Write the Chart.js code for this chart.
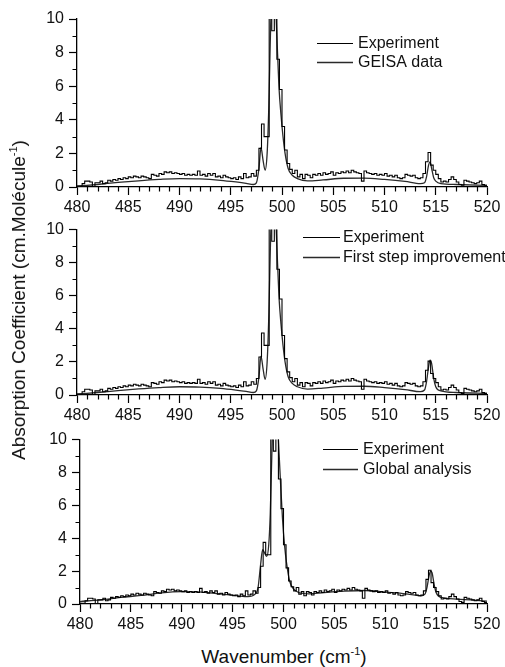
<!DOCTYPE html>
<html><head><meta charset="utf-8">
<script src="https://cdn.jsdelivr.net/npm/chart.js@4"></script>
<style>
html,body{margin:0;padding:0;background:#fff;}
#wrap{position:relative;width:505px;height:667px;overflow:hidden;background:#fff;font-family:"Liberation Sans",Arial,sans-serif;color:#111;}
.pn{position:absolute;left:0;width:505px;}
.pn canvas{display:block;}
#ytitle{position:absolute;left:19px;top:300px;transform:translate(-50%,-50%) rotate(-90deg);white-space:nowrap;font-size:19px;}
#xtitle{position:absolute;left:284px;top:657px;transform:translate(-50%,-50%);white-space:nowrap;font-size:19px;}
sup{font-size:11px;vertical-align:8px;line-height:0;}
</style></head>
<body>
<div id="wrap">
  <div class="pn" style="top:0;height:215px"><canvas id="c1" width="505" height="215"></canvas></div>
  <div class="pn" style="top:215px;height:210px"><canvas id="c2" width="505" height="210"></canvas></div>
  <div class="pn" style="top:425px;height:210px"><canvas id="c3" width="505" height="210"></canvas></div>
  <div id="ytitle">Absorption Coefficient (cm.Molécule<sup>-1</sup>)</div>
  <div id="xtitle">Wavenumber (cm<sup>-1</sup>)</div>
</div>
<script>
// ---------- data ----------
const xMin = 480, xMax = 520;
const xTickStep = 5;
const yMin = 0, yMax = 10;
const yTickStep = 2;
const expBinStart = 480, expBinWidth = 0.25;   // spectral bins of the measured spectrum
const experimentY = [
 0.05,0.05,0.20,0.35, 0.35,0.30,0.02,0.25, 0.25,0.35,0.20,0.25, 0.40,0.35,0.45,0.40,
 0.50,0.45,0.55,0.50, 0.60,0.55,0.65,0.60, 0.55,0.65,0.60,0.55, 0.50,0.75,0.70,0.65,
 0.80,0.75,0.90,0.85, 0.90,0.80,0.85,0.80, 0.75,0.80,0.70,0.75, 0.70,0.75,0.70,0.95,
 0.70,0.75,0.65,0.80, 0.70,0.80,0.60,0.65, 0.55,0.70,0.60,0.55, 0.50,0.55,0.45,0.60,
 0.50,0.80,0.55,0.60, 0.80,0.65,1.00,2.30, 3.75,3.00,3.00,10.5, 9.30,10.5,7.60,5.80,
 3.60,2.20,1.40,1.05, 0.80,1.00,0.60,0.75, 0.50,0.75,0.70,0.55, 0.75,0.70,0.80,0.70,
 0.85,0.75,0.80,0.90, 0.70,0.85,0.80,0.90, 0.85,0.95,0.85,1.00, 0.90,0.85,0.80,0.35,
 0.95,0.85,0.80,0.75, 0.80,0.70,0.75,0.70, 0.80,0.65,0.70,0.60, 0.70,0.55,0.50,0.55,
 0.75,0.70,0.65,0.70, 0.55,0.50,0.55,0.80, 1.50,2.05,1.30,1.00, 0.75,0.50,0.30,0.35,
 0.30,0.45,0.60,0.45, 0.30,0.15,0.10,0.40, 0.35,0.30,0.25,0.20, 0.25,0.35,0.15,0.10
];
const modelX = [480,482,484,486,488,490,492,494,495.5,496.5,497.2,497.5,497.75,497.95,498.15,498.35,498.55,498.7,498.85,499.0,499.15,499.3,499.5,499.7,499.9,500.1,500.3,500.6,501,501.5,502.5,504,506,508,510,512,513.5,513.9,514.1,514.3,514.45,514.6,514.8,515,515.5,517,520];
const geisaY = [0.05,0.15,0.27,0.37,0.45,0.50,0.48,0.40,0.30,0.22,0.15,0.25,1.10,2.35,1.60,1.00,2.00,4.50,8.50,12,13,12,9.0,6.0,4.3,3.0,2.0,1.1,0.70,0.50,0.36,0.42,0.52,0.53,0.45,0.33,0.20,0.25,0.60,1.30,1.50,1.10,0.55,0.35,0.20,0.15,0.10];
const firstStepY = [0.05,0.15,0.27,0.37,0.45,0.50,0.48,0.40,0.30,0.22,0.15,0.25,1.10,2.35,1.60,0.95,2.00,4.50,8.50,12,13,12,9.0,6.0,4.3,3.0,2.0,1.1,0.70,0.50,0.36,0.42,0.52,0.53,0.45,0.33,0.20,0.30,0.80,1.70,2.10,1.90,1.00,0.50,0.25,0.15,0.10];
const globalY = [0.15,0.25,0.40,0.52,0.68,0.75,0.72,0.60,0.50,0.45,0.60,1.00,2.40,3.30,3.10,2.90,3.60,5.50,9.0,12,13,12.5,10,7.5,5.2,3.6,2.5,1.4,0.90,0.70,0.62,0.70,0.78,0.82,0.72,0.62,0.50,0.60,1.00,1.70,2.00,1.90,1.20,0.70,0.40,0.30,0.18];
const panelLabels = [
  ['Experiment','GEISA data'],
  ['Experiment','First step improvement'],
  ['Experiment','Global analysis']
];
const modelSeries = [geisaY, firstStepY, globalY];

// ---------- build ----------
Chart.defaults.font.family = '"Liberation Sans", Arial, sans-serif';
Chart.defaults.color = '#111';

const expPoints = experimentY.map((v,i)=>({x: expBinStart + i*expBinWidth, y: v}));
expPoints.push({x: xMax, y: experimentY[experimentY.length-1]});

const minorTicks = {
  id:'minorTicks',
  afterDraw(chart){
    const ctx = chart.ctx, xs = chart.scales.x, ys = chart.scales.y;
    ctx.save(); ctx.strokeStyle='#000'; ctx.lineWidth=1.2;
    ctx.beginPath();
    for(let v=xs.min; v<=xs.max; v+=1){ if(v % xTickStep===0) continue;
      const p = Math.round(xs.getPixelForValue(v))+0.5; ctx.moveTo(p, xs.top); ctx.lineTo(p, xs.top+4.5); }
    for(let v=ys.min; v<=ys.max; v+=1){ if(v % yTickStep===0) continue;
      const p = Math.round(ys.getPixelForValue(v))+0.5; ctx.moveTo(ys.right-4.5, p); ctx.lineTo(ys.right, p); }
    ctx.stroke(); ctx.restore();
  }
};
const ownLegend = {
  id:'ownLegend',
  afterDraw(chart, args, o){
    const ctx = chart.ctx;
    ctx.save();
    ctx.font = '16px "Liberation Sans", Arial, sans-serif';
    ctx.textBaseline='middle'; ctx.fillStyle='#111';
    chart.data.datasets.forEach((ds,i)=>{
      const y = Math.round(o.y + i*o.dy) + 0.5;
      ctx.strokeStyle = ds.borderColor; ctx.lineWidth = ds.borderWidth;
      ctx.beginPath(); ctx.moveTo(o.x0, y); ctx.lineTo(o.x1, y); ctx.stroke();
      ctx.fillText(ds.label, o.tx, y+0.5);
    });
    ctx.restore();
  }
};

const panels = [
  {id:'c1', left:77, top:19, xh:28, leg:{x0:317,x1:353,tx:358,y:43,dy:19}},
  {id:'c2', left:77, top:12, xh:30, leg:{x0:303,x1:340,tx:343,y:22,dy:20}},
  {id:'c3', left:80, top:11, xh:31, leg:{x0:323,x1:358,tx:363,y:24,dy:20}}
];

panels.forEach((p,k)=>{
  new Chart(document.getElementById(p.id), {
    type:'line',
    data:{ datasets:[
      {label:panelLabels[k][0], data:expPoints, stepped:'before', borderColor:'#000', borderWidth:1.1, pointRadius:0, fill:false, clip:0},
      {label:panelLabels[k][1], data:modelX.map((x,i)=>({x, y:modelSeries[k][i]})), borderColor:'#2a2a2a', borderWidth:1.3, pointRadius:0, fill:false, cubicInterpolationMode:'monotone', clip:0}
    ]},
    options:{
      responsive:false, animation:false, devicePixelRatio:1,
      layout:{padding:{left:0, right:18, top:p.top, bottom:0}},
      plugins:{legend:{display:false}, tooltip:{enabled:false}, ownLegend:p.leg},
      scales:{
        x:{type:'linear', min:xMin, max:xMax,
           afterFit(s){ s.height = p.xh; },
           ticks:{stepSize:xTickStep, font:{size:16}, color:'#111', padding:3, maxRotation:0},
           grid:{drawOnChartArea:false, drawTicks:true, tickLength:8, color:'#000', tickWidth:1.2},
           border:{color:'#000', width:1.3}},
        y:{type:'linear', min:yMin, max:yMax,
           afterFit(s){ s.width = p.left; },
           ticks:{stepSize:yTickStep, font:{size:16}, color:'#111', padding:5},
           grid:{drawOnChartArea:false, drawTicks:true, tickLength:8, color:'#000', tickWidth:1.2},
           border:{color:'#000', width:1.3}}
      }
    },
    plugins:[minorTicks, ownLegend]
  });
});
</script>
</body></html>
